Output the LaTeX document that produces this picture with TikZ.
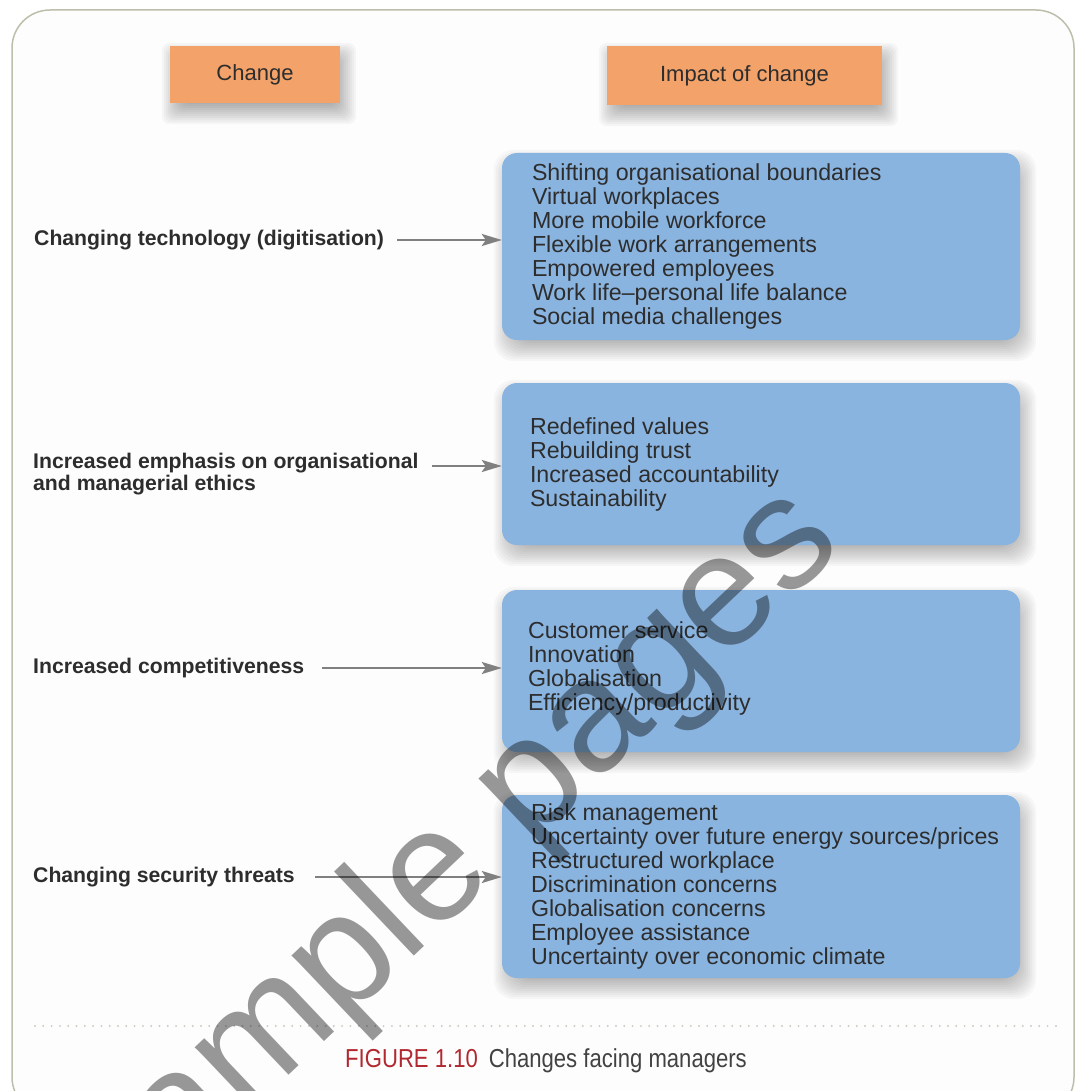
\documentclass[tikz,border=0pt]{standalone}
\usepackage{fontspec}
\setmainfont{Liberation Sans}
\newfontfamily\capfont[FakeStretch=0.85]{Liberation Sans}
\usetikzlibrary{arrows.meta,backgrounds}

\definecolor{orangebox}{RGB}{243,162,106}
\definecolor{bluebox}{RGB}{138,180,224}
\definecolor{ink}{RGB}{45,45,45}
\definecolor{framec}{RGB}{190,190,172}
\definecolor{dotc}{RGB}{205,205,195}
\definecolor{arrowc}{RGB}{128,128,128}
\definecolor{figred}{RGB}{178,40,48}
\definecolor{paper}{RGB}{253,253,253}

\tikzset{
  headbox/.style={fill=orangebox, text=ink, inner sep=0pt,
    font=\fontsize{22}{24}\selectfont},
  impactbox/.style={fill=bluebox, rounded corners=15pt, inner sep=0pt, minimum width=518pt},
  itemlist/.style={anchor=west, align=left, inner sep=0pt, text=ink,
    font=\fontsize{23.2}{24}\selectfont},
  cause/.style={anchor=west, align=left, inner sep=0pt, text=ink,
    font=\bfseries\fontsize{21.2}{22}\selectfont},
  arr/.style={draw=arrowc, line width=2.2pt,
    -{Stealth[length=20pt, width=12pt, inset=4pt]}},
}

% soft shadow under a node: stacked translucent layers offset down-right
% #1 node name, #2 corner radius, #3 opacity of each layer
\newcommand\castshadow[3]{%
  \foreach \s in {-8,-6,...,12}{%
    \pgfmathsetmacro\nwx{4-\s}%
    \pgfmathsetmacro\nwy{9-\s}%
    \pgfmathsetmacro\sex{4+\s}%
    \pgfmathsetmacro\sey{9+\s}%
    \fill[black, opacity=#3, rounded corners=#2]
      ([shift={(\nwx,\nwy)}]#1.north west) rectangle
      ([shift={(\sex,\sey)}]#1.south east);
  }%
}

\begin{document}
\begin{tikzpicture}[x=1pt, y=-1pt]
\useasboundingbox (0,0) rectangle (1075,1091);

% column headings
\node[headbox, minimum width=170pt, minimum height=57pt] (hchange) at (255,74.5) {Change};
\node[headbox, minimum width=275pt, minimum height=59pt] (himpact) at (744.5,75.5) {Impact of change};

% impact boxes
\node[impactbox, minimum height=187pt] (b1) at (761,246.5) {};
\node[impactbox, minimum height=162pt] (b2) at (761,464) {};
\node[impactbox, minimum height=162pt] (b3) at (761,671) {};
\node[impactbox, minimum height=183pt] (b4) at (761,886.5) {};

\node[itemlist] (l1) at ([xshift=30pt]b1.west) {Shifting organisational boundaries\\Virtual workplaces\\More mobile workforce\\Flexible work arrangements\\Empowered employees\\Work life--personal life balance\\Social media challenges};
\node[itemlist] (l2) at ([xshift=28pt]b2.west) {Redefined values\\Rebuilding trust\\Increased accountability\\Sustainability};
\node[itemlist] (l3) at ([xshift=26pt,yshift=3pt]b3.west) {Customer service\\Innovation\\Globalisation\\Efficiency/productivity};
\node[itemlist] (l4) at ([xshift=29pt]b4.west) {Risk management\\Uncertainty over future energy sources/prices\\Restructured workplace\\Discrimination concerns\\Globalisation concerns\\Employee assistance\\Uncertainty over economic climate};

% causes of change
\node[cause] (c1) at (34,240) {Changing technology (digitisation)};
\node[cause] (c2) at (33,474) {Increased emphasis on organisational\\and managerial ethics};
\node[cause] (c3) at (33,668) {Increased competitiveness};
\node[cause] (c4) at (33,877) {Changing security threats};

% connectors
\draw[arr] ([xshift=13pt]c1.east) -- (c1.east -| b1.west);
\draw[arr] ([xshift=13pt,yshift=8pt]c2.east) -- ([yshift=8pt]c2.east -| b2.west);
\draw[arr] ([xshift=18pt]c3.east) -- (c3.east -| b3.west);
\draw[arr] ([xshift=20pt]c4.east) -- (c4.east -| b4.west);

% caption rule and caption
\draw[dotc, line width=2.2pt, line cap=round, dash pattern=on 0pt off 8.3pt] (35,1026) -- (1056,1026);
\node[anchor=base west, inner sep=0pt] (cap) at (345,1067)
  {\capfont\fontsize{26}{28}\selectfont\textcolor{figred}{FIGURE 1.10}\hspace{11pt}\textcolor{ink!90}{Changes facing managers}};

% page frame and shadows, behind everything
\begin{scope}[on background layer]
  \fill[white] (0,0) rectangle (1075,1091);
  \begin{scope}
    \clip (0,0) rectangle (1075,1091);
    \draw[framec, line width=1.5pt, fill=paper, rounded corners=38pt] (12,10) rectangle (1074,1115);
  \end{scope}
  \castshadow{hchange}{8pt}{0.03}
  \castshadow{himpact}{8pt}{0.03}
  \castshadow{b1}{20pt}{0.026}
  \castshadow{b2}{20pt}{0.026}
  \castshadow{b3}{20pt}{0.026}
  \castshadow{b4}{20pt}{0.026}
\end{scope}

% watermark
\begin{scope}
  \clip (0,0) rectangle (1075,1091);
  \node[rotate=43.5, text=black, text opacity=0.4, inner sep=0pt,
    font=\fontsize{160}{160}\selectfont] (wm) at (446,869) {Sample pages};
\end{scope}
\end{tikzpicture}
\end{document}
